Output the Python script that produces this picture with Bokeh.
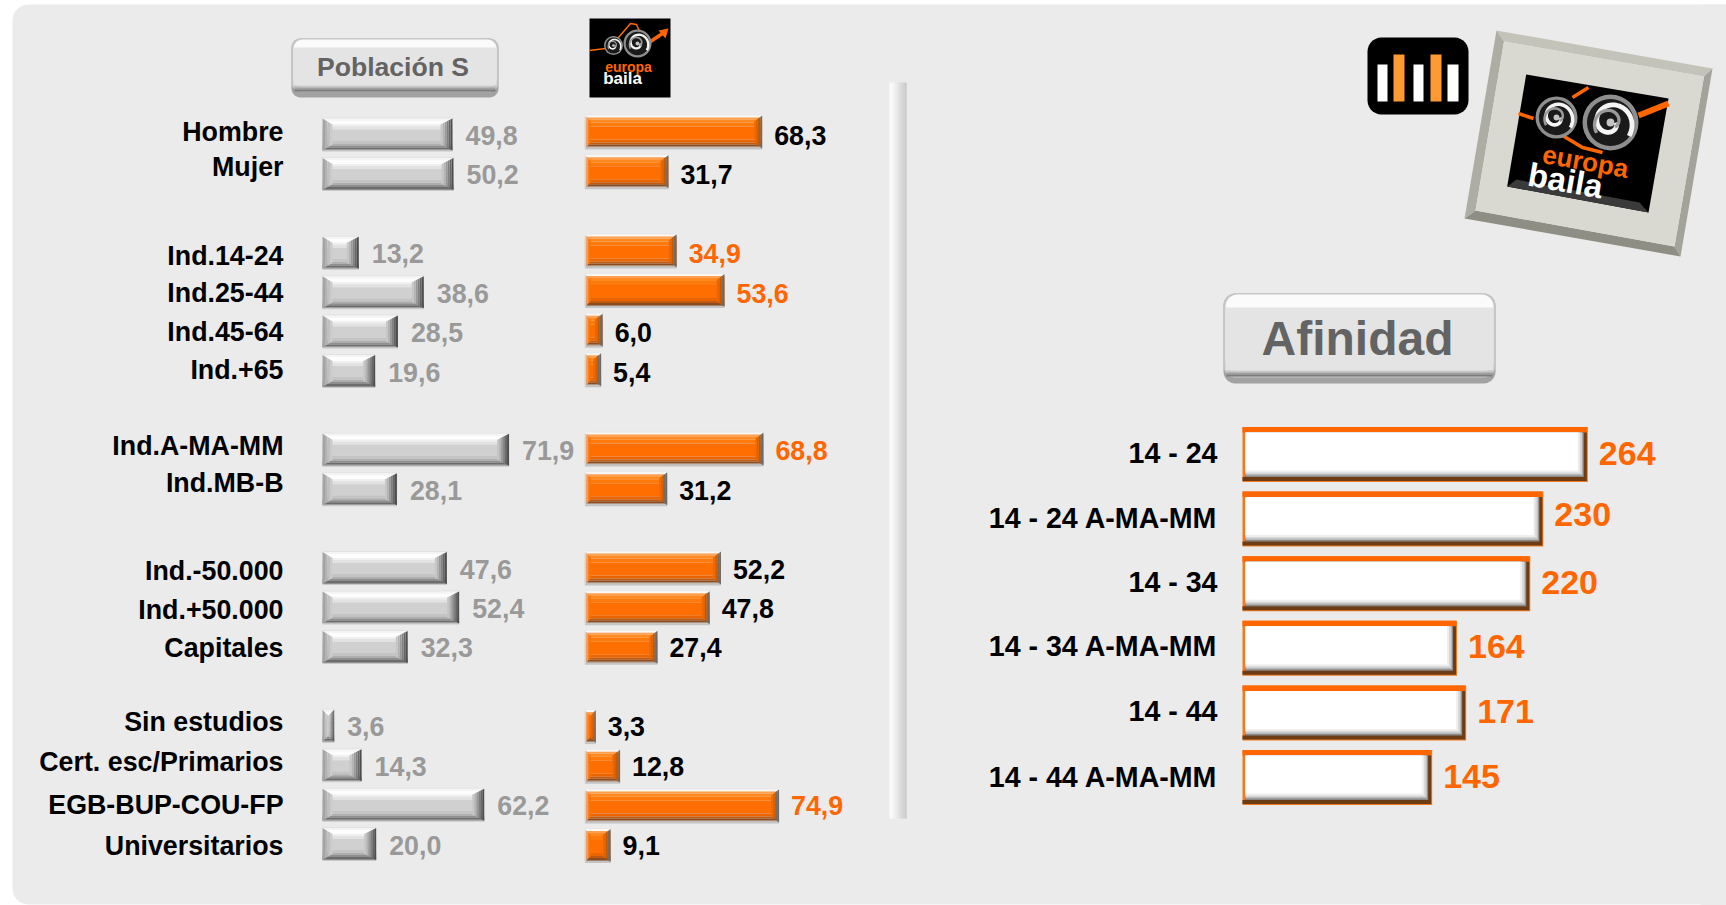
import numpy as np
from bokeh.plotting import figure
from bokeh.models import Range1d
from bokeh.core.properties import value
from bokeh.embed import file_html
from bokeh.resources import INLINE

# ------------------------------------------------------------------ data
categories = ["Hombre", "Mujer", "Ind.14-24", "Ind.25-44", "Ind.45-64", "Ind.+65",
              "Ind.A-MA-MM", "Ind.MB-B", "Ind.-50.000", "Ind.+50.000", "Capitales",
              "Sin estudios", "Cert. esc/Primarios", "EGB-BUP-COU-FP", "Universitarios"]
poblacion = [49.8, 50.2, 13.2, 38.6, 28.5, 19.6, 71.9, 28.1, 47.6, 52.4, 32.3, 3.6, 14.3, 62.2, 20.0]
europa = [68.3, 31.7, 34.9, 53.6, 6.0, 5.4, 68.8, 31.2, 52.2, 47.8, 27.4, 3.3, 12.8, 74.9, 9.1]
group_sizes = [2, 4, 2, 3, 4]
afin_cats = ["14 - 24", "14 - 24 A-MA-MM", "14 - 34", "14 - 34 A-MA-MM", "14 - 44", "14 - 44 A-MA-MM"]
afinidad = [264, 230, 220, 164, 171, 145]
highlighted = ["Ind.14-24", "Ind.25-44", "Ind.A-MA-MM", "EGB-BUP-COU-FP"]

# ---------------------------------------------------------------- layout
W, H = 1726, 905
X0, Y0 = 0, 0
ORANGE = "#ff6600"
FONT = value("Liberation Sans")
label_nudge = [-3, -7, 3, 1, 0, -1, -4, -6, 2.5, 2.5, 1, -4, -3, 0, 1.5]
afin_label_nudge = [-2, -1.5, -2, -2, -2, -1]
afin_value_nudge = [-1, -4.6, -1, -2, -1, -1]

rows, r = [], 0
for g in group_sizes:
    rows += list(range(r, r + g))
    r += g + 1
rows = np.array(rows, dtype=float)

p = figure(width=W, height=H, output_backend="svg", toolbar_location=None,
           x_range=Range1d(X0, X0 + W), y_range=Range1d(Y0 + H, Y0),
           x_axis_location=None, y_axis_location=None, min_border=0,
           background_fill_color="#ffffff", border_fill_color="#ffffff", outline_line_color=None)
p.grid.visible = False


def xr(base, k):
    return Range1d((X0 - base) / k, (X0 + W - base) / k)


def yr(first, pitch):
    return Range1d((Y0 + H - first) / pitch, (Y0 - first) / pitch)


p.extra_x_ranges = {"pop": xr(324.5, 2.56), "eb": xr(586.8, 2.56), "afin": xr(1242, 1.308)}
p.extra_y_ranges = {"pop": yr(134, 39.42), "eb": yr(131.5, 39.64), "afin": yr(454, 64.6)}


def rounded(x0, y0, x1, y1, r, n=8):
    xs, ys = [], []
    corners = [(x1 - r, y0 + r, -90), (x1 - r, y1 - r, 0), (x0 + r, y1 - r, 90), (x0 + r, y0 + r, 180)]
    for cx, cy, a in corners:
        t = np.radians(np.linspace(a, a + 90, n))
        xs += list(cx + r * np.cos(t))
        ys += list(cy + r * np.sin(t))
    return xs, ys


def poly(pts, color):
    p.patch([q[0] for q in pts], [q[1] for q in pts], fill_color=color, line_color=None)


def rrect(x0, y0, x1, y1, r, color):
    xs, ys = rounded(x0, y0, x1, y1, r)
    p.patch(xs, ys, fill_color=color, line_color=None)


def rect(x0, y0, x1, y1, color):
    p.quad(left=[x0], right=[x1], top=[y0], bottom=[y1], fill_color=color, line_color=None)


# panel
rrect(12, 4, 1800, 904, 16, "#ebebeb")
rect(1700, 4, 1726, 905, "#ebebeb")


def bevel_bars(vals, rws, name, k, pitch, left_px, right_pad, strips, right_cols, left_cols, rw, lw, hgt=34):
    vals = np.array(vals, dtype=float)
    rws = np.array(rws, dtype=float)
    opts = dict(x_range_name=name, y_range_name=name, line_color=None)
    left = np.full(len(vals), left_px / k)
    right = vals + right_pad / k
    for y0, y1, c in strips:
        p.quad(left=left, right=right, top=rws + (y0 - hgt / 2) / pitch, bottom=rws + (y1 - hgt / 2) / pitch,
               fill_color=c, **opts)
    width_px = (right - left) * k
    tb, bb = 6.0, 6.0
    for cols, width, side in ((left_cols, lw, -1), (right_cols, rw, 1)):
        n = len(cols)
        for i, c in enumerate(cols):
            xs, ys = [], []
            for j in range(len(vals)):
                h = min(width, width_px[j] / 2)
                f0, f1 = i / n, (i + 1) / n
                edge = left[j] if side < 0 else right[j]
                a = edge - side * h * f0 / k
                b = edge - side * h * f1 / k
                cy = rws[j]
                t0, t1 = (-hgt / 2 + 1 + tb * f0) / pitch, (-hgt / 2 + 1 + tb * f1) / pitch
                b0, b1 = (hgt / 2 - 1 - bb * f0) / pitch, (hgt / 2 - 1 - bb * f1) / pitch
                xs.append([a, b, b, a])
                ys.append([cy + t0, cy + t1, cy + b1, cy + b0])
            p.patches(xs, ys, fill_color=c, **opts)


gray_strips = [(0, 1, "#e2e2e2"), (1, 3, "#f4f4f4"), (3, 7, "#fdfdfd"), (7, 9, "#f0f0f0"), (9, 12, "#e2e2e2"),
               (12, 23, "#d0d0d0"), (23, 26, "#c4c4c4"), (26, 28, "#aeaeae"), (28, 30, "#8e8e8e"),
               (30, 32, "#6c6c6c"), (32, 33, "#8e8e8e"), (33, 34, "#c8c8c8")]
gray_right = ["#4e4e4e", "#666666", "#808080", "#999999", "#b4b4b4", "#c6c6c6"]
gray_left = ["#a4a4a4", "#b2b2b2", "#c0c0c0", "#cccccc"]
bevel_bars(poblacion, rows, "pop", 2.56, 39.42, -2.5, 0, gray_strips, gray_right, gray_left, 12, 10)

or_strips = [(0, 1, "#e8e8e8"), (1, 3, "#fbf8f4"), (3, 5, "#ffa050"), (5, 8, "#ff8a22"), (8, 12, "#ff7a0c"),
             (12, 25, "#ff6e00"), (25, 28, "#ea6402"), (28, 30, "#c05a10"), (30, 32, "#8c4c20"),
             (32, 33, "#a08068"), (33, 35, "#c4c4c4")]
or_right = ["#6a6a6a", "#7a6a5c", "#c05a08", "#dc6202", "#f06800"]
or_left = ["#d4d4d4", "#e8a878", "#ff8020", "#f87400"]
bevel_bars(europa, rows, "eb", 2.56, 39.64, -2.4, 0, or_strips, or_right, or_left, 8, 6, hgt=35)

# right-hand bars
aopts = dict(x_range_name="afin", y_range_name="afin", line_color=None)
a_rows = np.arange(len(afinidad), dtype=float)
a_vals = np.array(afinidad, dtype=float)
ak, ap = 1.308, 64.6


def aquad(lpx, rpx, y0, y1, c):
    p.quad(left=np.full(len(a_vals), lpx / ak), right=a_vals + rpx / ak,
           top=a_rows + y0 / ap, bottom=a_rows + y1 / ap, fill_color=c, **aopts)


aquad(0, 0, -27.5, 27.5, "#f07a20")
aquad(0, -1, -27.5, -22, ORANGE)
aquad(0, -1, 22.5, 26.5, "#6e3c14")
aquad(3, -1, -22, 23, "#6e3c14")
aquad(3, -4, -22, 22.5, "#8a8a8a")
aquad(3, -5, -22, 21, "#b8b8b8")
aquad(3, -6, -22, 19.5, "#d6d6d6")
aquad(3, -8, -22, 18, "#eeeeee")
aquad(3, -10, -22, 16, "#ffffff")

# divider
div_cols = ["#fbfbfb", "#f8f8f8", "#f3f3f3", "#ececec", "#e6e6e6", "#dedede", "#d8d8d8", "#d2d2d2", "#cccccc"]
for i, c in enumerate(div_cols):
    w = 17 / len(div_cols)
    rect(889 + i * w, 82, 889 + (i + 1) * w + 0.3, 818, c)

# texts
lab_opts = dict(text_font=FONT, text_font_style="bold", text_baseline="middle")
p.text(x=[283] * len(categories), y=134 + rows * 39.42, text=categories, y_offset=label_nudge,
       text_align="right", text_font_size="26.8px", text_color="#000000", **lab_opts)
p.text(x=poblacion, y=rows + 1 / 39.42, text=[f"{v:.1f}".replace(".", ",") for v in poblacion],
       x_offset=13, text_align="left", text_font_size="26.8px", text_color="#999999",
       x_range_name="pop", y_range_name="pop", **lab_opts)
p.text(x=europa, y=rows + 1 / 39.42, text=[f"{v:.1f}".replace(".", ",") for v in europa],
       x_offset=12, text_align="left", text_font_size="26.8px",
       text_color=[ORANGE if c in highlighted else "#000000" for c in categories],
       x_range_name="eb", y_range_name="pop", **lab_opts)
p.text(x=[1217] * len(afin_cats), y=454 + a_rows * 64.6, text=afin_cats, y_offset=afin_label_nudge,
       text_align="right", text_font_size="28.6px", text_color="#000000", **lab_opts)
p.text(x=afinidad, y=a_rows, text=[str(v) for v in afinidad], y_offset=afin_value_nudge, x_offset=11,
       text_align="left", text_font_size="34px", text_color=ORANGE,
       x_range_name="afin", y_range_name="afin", **lab_opts)


def button(x0, y0, x1, y1, r, band, shadow, label, size, ty):
    rrect(x0, y0, x1, y1, r, "#a2a2a2")
    rrect(x0, y0, x1, y1 - 6, r, "#c6c6c6")
    rrect(x0 + 2, y0 + 1, x1 - 2, y1 - shadow + 2, r, "#fbfbfb")
    rect(x0 + 2, y0 + band, x1 - 2, y1 - shadow, "#e4e4e4")
    rect(x0 + 2, y1 - shadow, x1 - 2, y1 - shadow + 2, "#c8c8c8")
    rect(x0 + 3, y1 - shadow + 2, x1 - 3, y1 - shadow + 4, "#a0a0a0")
    rect(x0 + 3, y1 - shadow + 4, x1 - 3, y1 - shadow + 6, "#7c7c7c")
    p.text(x=[(x0 + x1) / 2 - 2], y=[ty], text=[label], text_align="center", text_font_size=size,
           text_color="#636363", **lab_opts)


button(291, 38, 498, 97, 9, 9, 12, "Población S", "26.6px", 66)
button(1223, 293, 1495, 383, 12, 14, 13, "Afinidad", "48px", 338)

# bars icon
rrect(1367, 37, 1468, 114, 14, "#000000")
icon_x = [(1377, 1387, 64, "#ffffff"), (1393, 1404, 54, "#ff9933"), (1413, 1423, 64, "#ffffff"),
          (1430, 1441, 54, "#ff9933"), (1447, 1458, 64, "#ffffff")]
for a, b, t, c in icon_x:
    rect(a, t, b, 101, c)


def speaker(cx, cy, rad):
    p.circle([cx], [cy], radius=rad, fill_color="#8e8e8e", line_color=None)
    p.circle([cx], [cy], radius=rad * 0.84, fill_color="#1a1a1a", line_color=None)
    t = np.linspace(0, 2.2 * np.pi, 60)
    rr = rad * (0.2 + 0.62 * t / t[-1])
    p.line(cx + rr * np.cos(t), cy + rr * np.sin(t), line_color="#f4f4f4", line_width=max(1.5, rad * 0.17))
    t2 = t[: 40]
    rr2 = rad * (0.62 - 0.4 * t2 / t2[-1])
    p.line(cx + rr2 * np.cos(t2 + 2.5), cy + rr2 * np.sin(t2 + 2.5), line_color="#9a9a9a", line_width=max(1.2, rad * 0.12))
    p.circle([cx], [cy], radius=rad * 0.14, fill_color="#c4c4c4", line_color=None)


# small logo
rect(589, 18, 670, 97, "#000000")
p.line([589, 605, 618, 630, 636, 640], [50, 48, 37, 23, 24, 33], line_color="#ff6a00", line_width=1.5)
p.line([650, 662], [41, 33], line_color=ORANGE, line_width=3.5)
poly([(658, 30), (668, 28), (665, 38)], ORANGE)
speaker(613, 45, 9.5)
speaker(637, 43, 14)
p.text(x=[628], y=[66], text=["europa"], text_align="center", text_font_size="14px", text_color=ORANGE, **lab_opts)
p.text(x=[622], y=[78], text=["baila"], text_align="center", text_font_size="17px", text_color="#ffffff", **lab_opts)

# tilted framed logo
OUT = [(1496, 30), (1712, 68), (1680, 256), (1464, 218)]
INN = [(1503.5, 41), (1703.5, 76), (1674, 246), (1475, 210)]
poly([OUT[0], OUT[1], INN[1], INN[0]], "#c4c3ba")
poly([OUT[1], OUT[2], INN[2], INN[1]], "#a4a39a")
poly([OUT[2], OUT[3], INN[3], INN[2]], "#8f8e85")
poly([OUT[3], OUT[0], INN[0], INN[3]], "#aeada4")
poly(INN, "#d9d8d1")
BL = [(1525.7, 74), (1668, 98), (1648, 212), (1506.7, 186)]
poly(BL, "#000000")
poly([BL[3], BL[2], (1639, 202), (1516, 179)], "#3a3a3a")
for xs_, ys_, w_ in (([1518, 1533], [113, 118], 3.5), ([1572, 1588], [97, 87], 3.5),
                     ([1638, 1668], [115, 103], 6), ([1562, 1582, 1602], [135, 147, 152], 3.5)):
    p.line(xs_, ys_, line_color=ORANGE, line_width=w_)
speaker(1556, 117, 21)
speaker(1610, 122, 28)
p.text(x=[1585], y=[161], text=["europa"], angle=np.radians(-10), text_align="center", text_font_size="26px",
       text_color=ORANGE, **lab_opts)
p.text(x=[1565], y=[180], text=["baila"], angle=np.radians(-10), text_align="center", text_font_size="33px",
       text_color="#ffffff", **lab_opts)

open("out.html", "w").write(file_html(p, INLINE))
